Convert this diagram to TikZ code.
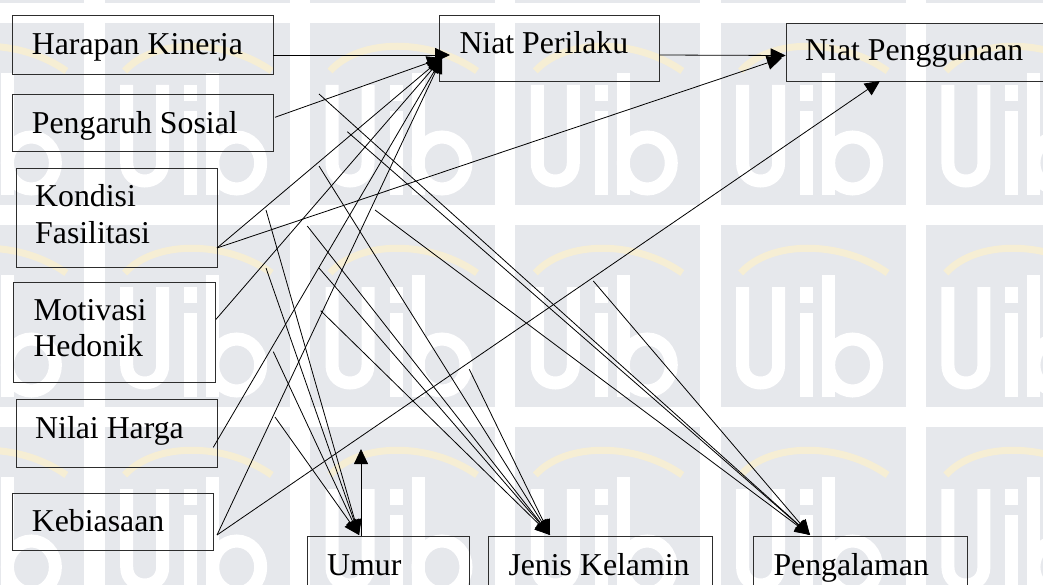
\documentclass[tikz,border=0pt]{standalone}
\usepackage{fontspec}
\setmainfont{Liberation Serif}
\usetikzlibrary{arrows.meta}
\definecolor{wmgray}{RGB}{230,232,236}
\definecolor{wmgold}{RGB}{246,238,212}
\definecolor{boxline}{RGB}{45,45,45}
\tikzset{
  box/.style={draw=boxline, line width=0.9pt, rectangle, inner sep=0pt, anchor=north west},
  lbl/.style={anchor=base west, inner sep=0pt, text=black, font=\fontsize{31.8}{36}\selectfont},
  link/.style={draw=black, line width=0.8pt, -{Triangle[length=15pt,width=14pt]}},
  wmstroke/.style={draw=white, line width=13pt},
}
\begin{document}
\begin{tikzpicture}[x=1pt,y=-1pt]
\clip (0,0) rectangle (1043,585);
\fill[white] (0,0) rectangle (1043,585);

% background logo tiles
\foreach \i in {-1,...,4}{
  \foreach \j in {-1,...,2}{
    \begin{scope}[shift={(104.7+205.3*\i,23+202*\j)}]
      \fill[wmgray] (0,0) rectangle (185,182);
      \draw[wmgold, line width=7pt] (20,48) .. controls (50,15) and (120,15) .. (167,48);
      \draw[wmstroke] (22,62) -- (22,140) .. controls (22,164) and (58,164) .. (58,140) -- (58,62);
      \draw[wmstroke] (86,88) -- (86,172);
      \fill[white] (79.5,62) rectangle (92.5,78);
      \draw[wmstroke] (108,50) -- (108,172);
      \draw[wmstroke] (132,140) ellipse (24 and 26);
    \end{scope}
  }
}

% construct boxes
\node[box, minimum width=261.6pt, minimum height=59pt]   (hk)  at (11.7,15)   {};
\node[box, minimum width=261.6pt, minimum height=56.4pt] (ps)  at (11.7,94.3) {};
\node[box, minimum width=201.6pt, minimum height=98.4pt] (kf)  at (15.7,168.3) {};
\node[box, minimum width=201.7pt, minimum height=100pt]  (mh)  at (13.3,281.7) {};
\node[box, minimum width=201.6pt, minimum height=67.4pt] (nh)  at (15.7,399.3) {};
\node[box, minimum width=201.6pt, minimum height=57.3pt] (kb)  at (11.7,492.7) {};
\node[box, minimum width=220pt,   minimum height=66pt]   (np)  at (439.3,15)  {};
\node[box, minimum width=280pt,   minimum height=58.3pt] (npg) at (785.7,22.7) {};
\node[box, minimum width=161.7pt, minimum height=70pt]   (um)  at (307.3,536) {};
\node[box, minimum width=224pt,   minimum height=70pt]   (jk)  at (487.7,535.7) {};
\node[box, minimum width=214pt,   minimum height=70pt]   (pg)  at (753.3,535.7) {};

% labels
\node[lbl] (hkT)  at (31.7,55)    {Harapan Kinerja};
\node[lbl] (psT)  at (31.7,133.3) {Pengaruh Sosial};
\node[lbl] (kfT1) at (35,206.7)   {Kondisi};
\node[lbl] (kfT2) at (35,243.3)   {Fasilitasi};
\node[lbl] (mhT1) at (33.3,320)   {Motivasi};
\node[lbl] (mhT2) at (33.3,356.7) {Hedonik};
\node[lbl] (nhT)  at (35,438.3)   {Nilai Harga};
\node[lbl] (kbT)  at (31.7,531.7) {Kebiasaan};
\node[lbl] (npT)  at (459.3,54)   {Niat Perilaku};
\node[lbl] (npgT) at (805,61)     {Niat Penggunaan};
\node[lbl] (umT)  at (327,575)    {Umur};
\node[lbl] (jkT)  at (508.3,575)  {Jenis Kelamin};
\node[lbl] (pgT)  at (773.3,575)  {Pengalaman};

% attachment points
\coordinate (hkR) at (273.3,55);
\coordinate (psR) at (275,117.3);
\coordinate (kfR) at (217,248);
\coordinate (mhR) at (216,319.3);
\coordinate (nhR) at (213.3,447.3);
\coordinate (kbR) at (217,535);
\coordinate (npR) at (659.3,55);
\coordinate (npIn1) at (450,55);
\coordinate (npIn2) at (442,58);
\coordinate (npgIn1) at (785.7,55.5);
\coordinate (npgIn2) at (782,58);
\coordinate (npgIn3) at (880,81);
\coordinate (umIn) at (359,535);
\coordinate (umTop) at (361,535.5);
\coordinate (umUp) at (361,449);
\coordinate (jkIn) at (550,535);
\coordinate (pgIn) at (810,535);

% moderator line starts
\coordinate (u1) at (266,210);
\coordinate (u2) at (266,268);
\coordinate (u3) at (273.3,351.7);
\coordinate (u4) at (275,417);
\coordinate (j1) at (319,166);
\coordinate (j2) at (307.3,226);
\coordinate (j3) at (319,268);
\coordinate (j4) at (320.7,310.7);
\coordinate (j5) at (469.3,369.3);
\coordinate (p1) at (319,94);
\coordinate (p2) at (347.3,131.7);
\coordinate (p3) at (375,210);
\coordinate (p4) at (593.3,281);

% constructs to intention
\draw[link] (hkR) -- (npIn1);
\draw[link] (psR) -- (npIn2);
\draw[link] (kfR) -- (npIn2);
\draw[link] (mhR) -- (npIn2);
\draw[link] (nhR) -- (npIn2);
\draw[link] (kbR) -- (npIn2);

% to use intention
\draw[link] (npR) -- (npgIn1);
\draw[link] (kfR) -- (npgIn2);
\draw[link] (kbR) -- (npgIn3);

% moderators
\foreach \s in {u1,u2,u3,u4} \draw[link] (\s) -- (umIn);
\draw[link] (umTop) -- (umUp);
\foreach \s in {j1,j2,j3,j4,j5} \draw[link] (\s) -- (jkIn);
\foreach \s in {p1,p2,p3,p4} \draw[link] (\s) -- (pgIn);
\end{tikzpicture}
\end{document}
